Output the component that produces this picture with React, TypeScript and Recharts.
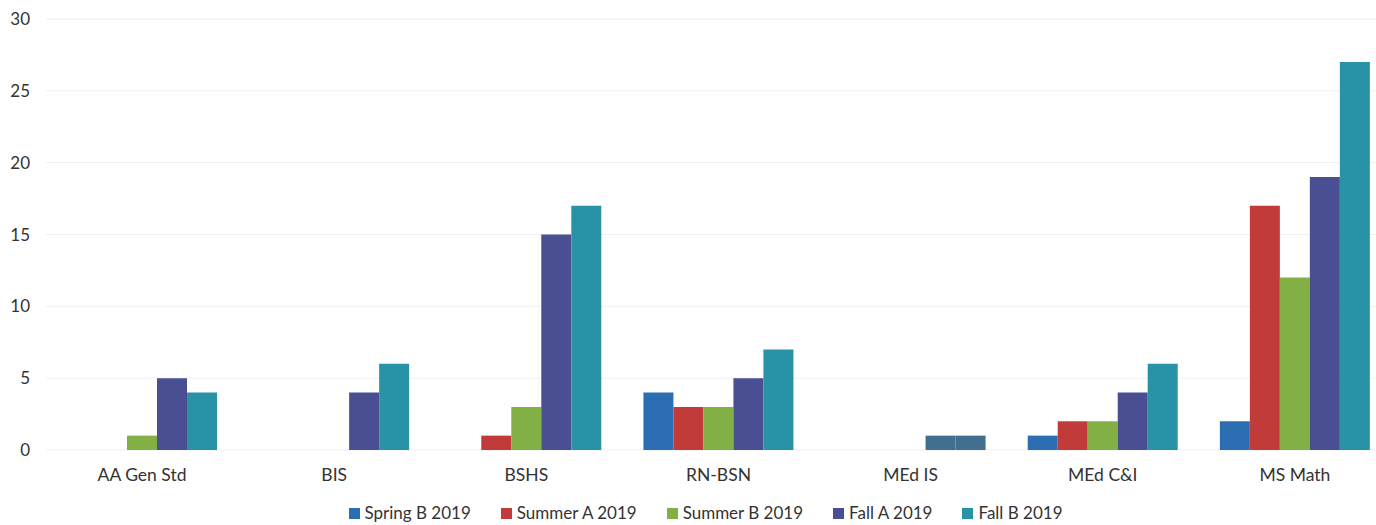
import { BarChart, Bar, XAxis, YAxis, CartesianGrid, Legend, Cell } from 'recharts';

const programs = ['AA Gen Std', 'BIS', 'BSHS', 'RN-BSN', 'MEd IS', 'MEd C&I', 'MS Math'];
const springB = [0, 0, 0, 4, 0, 1, 2];
const summerA = [0, 0, 1, 3, 0, 2, 17];
const summerB = [1, 0, 3, 3, 0, 2, 12];
const fallA = [5, 4, 15, 5, 1, 4, 19];
const fallB = [4, 6, 17, 7, 1, 6, 27];
const yTicks = [0, 5, 10, 15, 20, 25, 30];

const series = [
  { key: 'springB', label: 'Spring B 2019', color: '#2b6fb2' },
  { key: 'summerA', label: 'Summer A 2019', color: '#c13b3b' },
  { key: 'summerB', label: 'Summer B 2019', color: '#83b044' },
  { key: 'fallA', label: 'Fall A 2019', color: '#4a4e93' },
  { key: 'fallB', label: 'Fall B 2019', color: '#2892a6' },
];

// MEd IS bars came out blended in the source image
const blendedColor = '#41708f';

const data = programs.map((name, i) => ({
  name,
  springB: springB[i],
  summerA: summerA[i],
  summerB: summerB[i],
  fallA: fallA[i],
  fallB: fallB[i],
}));

const font = 'Lato, "Noto Sans", sans-serif';

const LegendContent = () => (
  <div style={{ display: 'flex', justifyContent: 'center', alignItems: 'center', gap: 30, paddingTop: 8, paddingLeft: 20, lineHeight: '20px', fontFamily: font, fontSize: 17, color: '#333' }}>
    {series.map((s) => (
      <div key={s.key} style={{ display: 'flex', alignItems: 'center' }}>
        <span style={{ display: 'inline-block', width: 11, height: 11, background: s.color, marginRight: 5 }} />
        <span>{s.label}</span>
      </div>
    ))}
  </div>
);

export default function App() {
  return (
    <div style={{ width: 1376, height: 525, overflow: 'hidden', background: '#fff' }}>
      <style>{'body { margin: 0; }'}</style>
      <BarChart
        width={1400}
        height={525}
        data={data}
        margin={{ top: 19, right: 9, left: 0, bottom: 0 }}
        barCategoryGap={21}
        barGap={0}
      >
        <CartesianGrid vertical={false} stroke="#efefef" />
        <XAxis
          dataKey="name"
          axisLine={false}
          tickLine={false}
          tickMargin={13}
          height={45}
          tick={{ fill: '#333', fontSize: 17.5, fontFamily: font }}
        />
        <YAxis
          domain={[0, 30]}
          ticks={yTicks}
          axisLine={false}
          tickLine={false}
          tickMargin={10}
          width={46}
          tick={{ fill: '#333', fontSize: 17, fontFamily: font }}
        />
        <Legend verticalAlign="bottom" height={30} content={<LegendContent />} />
        {series.map((s) => (
          <Bar key={s.key} dataKey={s.key} name={s.label} fill={s.color} isAnimationActive={false}>
            {data.map((d) => (
              <Cell key={d.name} fill={d.name === 'MEd IS' ? blendedColor : s.color} />
            ))}
          </Bar>
        ))}
      </BarChart>
    </div>
  );
}
